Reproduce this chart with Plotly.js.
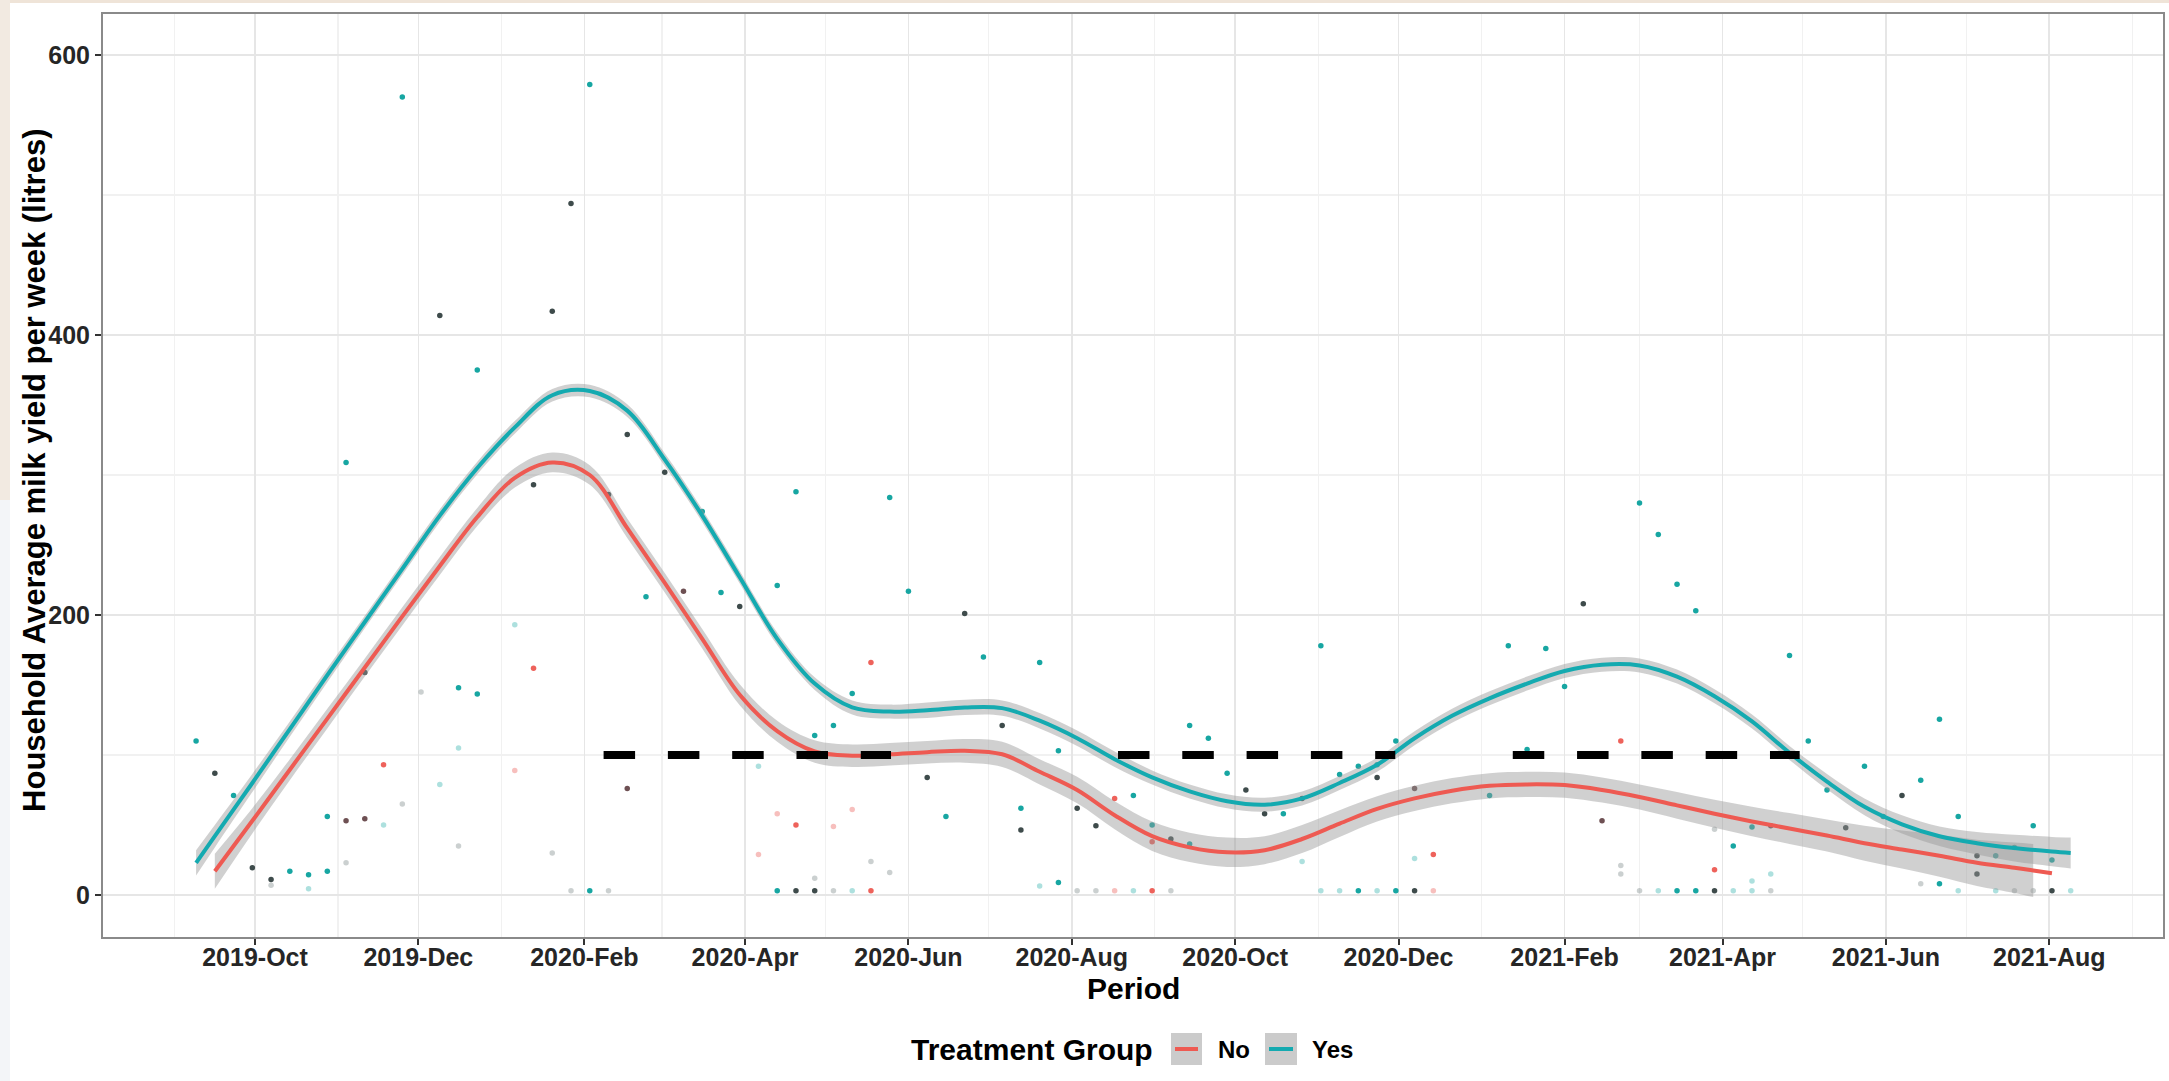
<!DOCTYPE html>
<html>
<head>
<meta charset="utf-8">
<script src="https://cdn.plot.ly/plotly-3.0.1.min.js"></script>
<style>
  html, body { margin: 0; padding: 0; background: #ffffff; }
  #chart { width: 2169px; height: 1081px; }
</style>
</head>
<body>
<div id="chart"></div>
<script>
// ---------------- DATA ----------------
// Smoothed fits (weekly dates, sampled every two weeks) and their standard-error half-widths
const yesFitDates = ['2019-09-09','2019-09-16','2019-09-30','2019-10-14','2019-10-28','2019-11-11','2019-11-25','2019-12-09','2019-12-23','2020-01-06','2020-01-20','2020-02-03','2020-02-17','2020-03-02','2020-03-16','2020-03-30','2020-04-13','2020-04-27','2020-05-11','2020-05-25','2020-06-08','2020-06-22','2020-07-06','2020-07-20','2020-08-03','2020-08-17','2020-08-31','2020-09-14','2020-09-28','2020-10-12','2020-10-26','2020-11-09','2020-11-23','2020-12-07','2020-12-21','2021-01-04','2021-01-18','2021-02-01','2021-02-15','2021-03-01','2021-03-15','2021-03-29','2021-04-12','2021-04-26','2021-05-10','2021-05-24','2021-06-07','2021-06-21','2021-07-05','2021-07-19','2021-08-02','2021-08-09'];
const yesFit = [23,42,
  80,118.5,157,195,233,271,305,334,357,360,
  346,311,271,227,183,151,134,131,132,134,
  133.5,124.5,112,97,84,74,67,64.5,69,80,
  93,112,128,140.5,151,160,164.5,164,156,142,
  124,101.5,81,63,50.5,42,37,33.5,31,
  30];
const yesSE = [9,8,
  6.5,5.5,5,4.5,4.5,4.5,4.5,4.5,4.5,4.5,
  4.5,4.5,4.5,4.5,4.5,4.5,5,5,5.5,5.5,
  5.5,5.5,5.5,5.5,5,5,5,5,5,5,
  5,5,5,5,5,5,5,5,5,5,
  5,5,5.5,6,6.5,7,8,9.5,10.5,
  11];

const noFitDates = ['2019-09-16','2019-09-30','2019-10-14','2019-10-28','2019-11-11','2019-11-25','2019-12-09','2019-12-23','2020-01-06','2020-01-20','2020-02-03','2020-02-17','2020-03-02','2020-03-16','2020-03-30','2020-04-13','2020-04-27','2020-05-11','2020-05-25','2020-06-08','2020-06-22','2020-07-06','2020-07-20','2020-08-03','2020-08-17','2020-08-31','2020-09-14','2020-09-28','2020-10-12','2020-10-26','2020-11-09','2020-11-23','2020-12-07','2020-12-21','2021-01-04','2021-01-18','2021-02-01','2021-02-15','2021-03-01','2021-03-15','2021-03-29','2021-04-12','2021-04-26','2021-05-10','2021-05-24','2021-06-07','2021-06-21','2021-07-05','2021-07-19','2021-07-26','2021-08-02'];
const noFit = [17,
  53,89.5,126,162.5,199,235,270,298,309,300,
  262,223,183,143,117,102.5,99.5,100.5,102,103,
  100.5,88,75,57,42,34,30.5,32,40,51,
  61.5,69,74.5,78,79,78.5,75,70,64,58,
  52.5,47.5,42.5,37,32.5,28,23,19.5,
  17.5,15.5];
const noSE = [12.5,
  9,7.5,7,6.5,6.5,6.5,6.5,7,7,7,
  7,7,7,7.5,7.5,8,8,8,8,8.5,
  9,9,9.5,10,10.5,10.5,10.5,10,10,9.5,
  9,9,9,9,9,9,9,9,9.5,10,
  10.5,11,11.5,12.5,13.5,15,16.5,18,
  19,20];

// Weekly household observations
const yesPointDates = ['2019-09-09','2019-09-23','2019-10-14','2019-10-21','2019-10-28','2019-10-28','2019-11-04','2019-11-25','2019-12-16','2019-12-23','2019-12-23','2020-02-03','2020-02-03','2020-02-24','2020-03-16','2020-03-23','2020-04-13','2020-04-13','2020-04-20','2020-04-27','2020-05-04','2020-05-11','2020-05-25','2020-06-01','2020-06-15','2020-06-29','2020-07-13','2020-07-20','2020-07-27','2020-07-27','2020-08-24','2020-08-31','2020-09-14','2020-09-14','2020-09-21','2020-09-28','2020-10-19','2020-11-02','2020-11-09','2020-11-16','2020-11-16','2020-11-23','2020-11-30','2020-11-30','2021-01-04','2021-01-11','2021-01-18','2021-01-25','2021-02-01','2021-03-01','2021-03-08','2021-03-15','2021-03-15','2021-03-22','2021-03-22','2021-04-05','2021-04-12','2021-04-26','2021-05-03','2021-05-10','2021-05-24','2021-05-31','2021-06-14','2021-06-21','2021-06-21','2021-06-28','2021-07-12','2021-07-19','2021-07-26','2021-08-02'];
const yesPointValues = [110,71,17,14.5,17,56,309,570,148,143.5,375,579,3,213,274,216,221,3,288,114,121,144,284,217,56,170,62,166,103,9,71,50,36.5,121,112,87,58,178,86,92,3,93,110,3,71,178,104,176,149,280,257.5,222,3,203,3,35,48.5,171,110,75,92,56,82,125.5,8,56,28,34,49.5,25];

const noPointDates = ['2019-11-18','2020-01-13','2020-04-20','2020-05-18','2020-05-18','2020-08-17','2020-08-31','2020-08-31','2020-12-14','2021-02-22','2021-03-29'];
const noPointValues = [93,162,50,166,3,69,38,3,29,110,18];

const bothPointDates = ['2019-09-16','2019-09-30','2019-10-07','2019-11-11','2019-12-09','2020-01-13','2020-01-20','2020-01-27','2020-02-10','2020-02-17','2020-03-02','2020-03-30','2020-04-20','2020-04-27','2020-06-08','2020-06-22','2020-07-06','2020-07-13','2020-08-03','2020-08-10','2020-09-07','2020-10-05','2020-10-12','2020-10-26','2020-11-23','2020-12-07','2021-02-08','2021-03-29','2021-05-17','2021-06-07','2021-07-05','2021-07-05','2021-08-02'];
const bothPointValues = [87,19.5,11,159,414,293,417,494,286,329,302,206,3,3,84,201,121,46.5,62,49.5,40,75,58,69,84,3,208,3,48,71,28,15,3];

const mixedPointDates = ['2019-11-04','2019-11-11','2020-02-17','2020-03-09','2020-12-07','2021-02-15','2021-04-19'];
const mixedPointValues = [53,54.5,76,217,76,53,49.5];

const faintYesDates = ['2019-10-21','2019-11-18','2019-12-09','2019-12-16','2020-01-06','2020-04-06','2020-05-11','2020-07-20','2020-08-24','2020-10-26','2020-11-02','2020-11-09','2020-11-23','2020-12-07','2021-03-08','2021-04-05','2021-04-12','2021-04-12','2021-04-19','2021-06-28','2021-07-12','2021-08-09'];
const faintYesValues = [4.4,50,79,105,193,92,3,6.4,3,24,3,3,3,26,3,3,3,10,15,3,3,3];

const faintNoDates = ['2020-01-06','2020-04-06','2020-04-13','2020-05-04','2020-05-11','2020-08-17','2020-12-14'];
const faintNoValues = [89,29,58,49,61,3,3];

const faintBothDates = ['2019-10-07','2019-11-04','2019-11-25','2019-12-02','2019-12-16','2020-01-20','2020-01-27','2020-02-10','2020-04-27','2020-05-04','2020-05-18','2020-05-25','2020-08-03','2020-08-10','2020-09-07','2021-02-22','2021-02-22','2021-03-01','2021-03-29','2021-04-19','2021-06-14','2021-07-19','2021-07-26'];
const faintBothValues = [7,23,65,145,35,30,3,3,12,3,24,16,3,3,3,21,15,3,47,3,8,3,3];

// Reference level (dashed) periods
const refStart = ['2020-02-08 04:00','2020-08-18 06:00','2021-01-12 16:00'];
const refEnd   = ['2020-05-25 12:00','2020-11-29 19:00','2021-04-29 19:00'];
const refValue = [100, 100, 100];

// Labels
const xTitle = 'Period';
const yTitle = 'Household Average milk yield per week (litres)';
const legendTitle = 'Treatment Group';
const groupLabels = ['No', 'Yes'];

// ---------------- STYLE ----------------
const FONT = "'Liberation Sans', Arial, Helvetica, sans-serif";
const RED = '#EE5A52';
const TEAL = '#14AAB0';
const BAND = 'rgba(150,150,150,0.45)';

function pointTrace(x, y, color) {
  return {type:'scatter', mode:'markers', x:x, y:y, hoverinfo:'skip', showlegend:false,
          marker:{size:5.5, color:color, line:{width:0}}};
}
function bandTraces(dates, fit, se, n) {
  const d = dates.slice(0, n), f = fit.slice(0, n), s = se.slice(0, n);
  const lower = f.map((v, i) => v - s[i]);
  const upper = f.map((v, i) => v + s[i]);
  return [
    {type:'scatter', mode:'lines', x:d, y:lower, line:{width:0, shape:'spline'}, hoverinfo:'skip', showlegend:false},
    {type:'scatter', mode:'lines', x:d, y:upper, line:{width:0, shape:'spline'}, fill:'tonexty', fillcolor:BAND, hoverinfo:'skip', showlegend:false}
  ];
}
function lineTrace(dates, fit, color, name) {
  return {type:'scatter', mode:'lines', x:dates, y:fit, name:name, showlegend:false, hoverinfo:'skip',
          line:{color:color, width:4, shape:'spline', smoothing:1}};
}

const traces = [];
traces.push(pointTrace(faintBothDates, faintBothValues, 'rgba(70,85,85,0.28)'));
traces.push(pointTrace(faintYesDates, faintYesValues, 'rgba(20,165,160,0.35)'));
traces.push(pointTrace(faintNoDates, faintNoValues, 'rgba(235,95,90,0.40)'));
traces.push(pointTrace(yesPointDates, yesPointValues, '#17A6A2'));
traces.push(pointTrace(noPointDates, noPointValues, '#EE625B'));
traces.push(pointTrace(mixedPointDates, mixedPointValues, '#6E5053'));
traces.push(pointTrace(bothPointDates, bothPointValues, '#3E4B4B'));

bandTraces(noFitDates, noFit, noSE, noFitDates.length - 1).forEach(t => traces.push(t));
traces.push(lineTrace(noFitDates, noFit, RED, groupLabels[0]));
bandTraces(yesFitDates, yesFit, yesSE, yesFitDates.length).forEach(t => traces.push(t));
traces.push(lineTrace(yesFitDates, yesFit, TEAL, groupLabels[1]));

for (let i = 0; i < refStart.length; i++) {
  traces.push({type:'scatter', mode:'lines', x:[refStart[i], refEnd[i]], y:[refValue[i], refValue[i]],
               hoverinfo:'skip', showlegend:false,
               line:{color:'#000000', width:8, dash:'31.5px,32.8px'}});
}

// ---------------- LAYOUT ----------------
const tickFont = {family:FONT, size:25, color:'#262626', weight:'bold'};

// plot area: x 103..2163 px, y 14..937 px
function px2paperX(px) { return (px - 103) / 2060; }
function px2paperY(py) { return (937 - py) / 923; }

const shapes = [
  // thin screenshot tint along the top and left edges
  {type:'rect', xref:'paper', yref:'paper', x0:px2paperX(0), x1:px2paperX(2169), y0:px2paperY(3), y1:px2paperY(0), fillcolor:'#EFE4D8', line:{width:0}, layer:'below'},
  {type:'rect', xref:'paper', yref:'paper', x0:px2paperX(0), x1:px2paperX(10), y0:px2paperY(500), y1:px2paperY(0), fillcolor:'#F2EAE1', line:{width:0}, layer:'below'},
  {type:'rect', xref:'paper', yref:'paper', x0:px2paperX(0), x1:px2paperX(10), y0:px2paperY(1081), y1:px2paperY(500), fillcolor:'#F3F5F8', line:{width:0}, layer:'below'},
  // legend keys
  {type:'rect', xref:'paper', yref:'paper', x0:px2paperX(1171), x1:px2paperX(1202), y0:px2paperY(1065), y1:px2paperY(1033), fillcolor:'#CBCBCB', line:{width:0}},
  {type:'line', xref:'paper', yref:'paper', x0:px2paperX(1175), x1:px2paperX(1198), y0:px2paperY(1049), y1:px2paperY(1049), line:{color:RED, width:4}},
  {type:'rect', xref:'paper', yref:'paper', x0:px2paperX(1265), x1:px2paperX(1297), y0:px2paperY(1065), y1:px2paperY(1033), fillcolor:'#CBCBCB', line:{width:0}},
  {type:'line', xref:'paper', yref:'paper', x0:px2paperX(1269), x1:px2paperX(1293), y0:px2paperY(1049), y1:px2paperY(1049), line:{color:TEAL, width:4}}
];

const annotations = [
  // axis titles
  {xref:'paper', yref:'paper', x:0.5, y:px2paperY(988), xanchor:'center', yanchor:'middle', showarrow:false,
   text:xTitle, font:{family:FONT, size:30, color:'#000', weight:'bold'}},
  {xref:'paper', yref:'paper', x:px2paperX(35), y:0.505, xanchor:'center', yanchor:'middle', showarrow:false, textangle:-90,
   text:yTitle, font:{family:FONT, size:31, color:'#000', weight:'bold'}},
  // legend
  {xref:'paper', yref:'paper', x:px2paperX(1155), y:px2paperY(1049), xanchor:'right', yanchor:'middle', showarrow:false,
   text:legendTitle, font:{family:FONT, size:30, color:'#000', weight:'bold'}},
  {xref:'paper', yref:'paper', x:px2paperX(1216), y:px2paperY(1049), xanchor:'left', yanchor:'middle', showarrow:false,
   text:groupLabels[0], font:{family:FONT, size:24, color:'#000', weight:'bold'}},
  {xref:'paper', yref:'paper', x:px2paperX(1310), y:px2paperY(1049), xanchor:'left', yanchor:'middle', showarrow:false,
   text:groupLabels[1], font:{family:FONT, size:24, color:'#000', weight:'bold'}}
];

const layout = {
  width: 2169, height: 1081,
  margin: {l:103, r:6, t:14, b:144, pad:0},
  paper_bgcolor: '#ffffff', plot_bgcolor: '#ffffff',
  showlegend: false,
  font: {family: FONT, color: '#000'},
  xaxis: {
    type: 'date', range: ['2019-08-05 05:45', '2021-09-12 11:15'], autorange: false,
    tick0: '2019-10-01', dtick: 'M2', tickformat: '%Y-%b',
    ticks: 'outside', ticklen: 6, tickwidth: 2, tickcolor: '#333333',
    ticklabelstandoff: -9,
    showgrid: true, gridcolor: '#E6E6E6', gridwidth: 1.6,
    minor: {tick0: '2019-09-01', dtick: 'M2', showgrid: true, gridcolor: '#F1F1F1', gridwidth: 1.2},
    showline: true, mirror: true, linecolor: '#8A8A8A', linewidth: 2,
    zeroline: false, tickfont: tickFont, automargin: false
  },
  yaxis: {
    range: [-30, 629.3], autorange: false,
    tick0: 0, dtick: 200,
    ticks: 'outside', ticklen: 6, tickwidth: 2, tickcolor: '#333333',
    showgrid: true, gridcolor: '#E6E6E6', gridwidth: 1.6,
    minor: {tick0: 100, dtick: 200, showgrid: true, gridcolor: '#F1F1F1', gridwidth: 1.2},
    showline: true, mirror: true, linecolor: '#8A8A8A', linewidth: 2,
    zeroline: false, tickfont: tickFont, automargin: false
  },
  shapes: shapes,
  annotations: annotations
};

Plotly.newPlot('chart', traces, layout, {displayModeBar: false, staticPlot: true});
</script>
</body>
</html>
